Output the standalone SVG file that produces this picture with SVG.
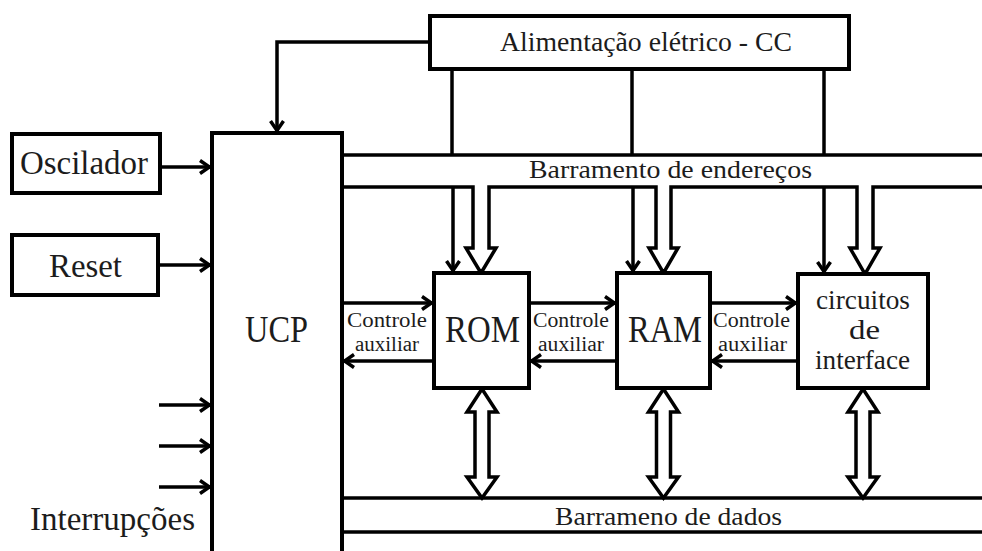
<svg xmlns="http://www.w3.org/2000/svg" width="982" height="551" viewBox="0 0 982 551" font-family="'Liberation Serif', 'Times New Roman', Times, 'DejaVu Serif', serif">
  <style>
    .box { fill: #fff; stroke: #000; stroke-width: 4; }
    .ln { fill: none; stroke: #000; stroke-width: 3.5; }
    .arw { fill: none; stroke: #000; stroke-width: 3.5; marker-end: url(#chev); }
    .blk { fill: #fff; stroke: #000; stroke-width: 3.5; stroke-linejoin: miter; }
    .open { fill: none; stroke: #000; stroke-width: 3.5; stroke-linejoin: miter; }
    .txt { fill: #1c1c1c; }
    .big { font-size: 37px; }
    .lab { font-size: 33px; }
    .bus { font-size: 26px; }
    .aux { font-size: 20px; }
    .ifc { font-size: 27px; }
  </style>
  <defs>
    <marker id="chev" viewBox="0 0 12 16" refX="11" refY="8" markerWidth="12" markerHeight="16" markerUnits="userSpaceOnUse" orient="auto">
      <path d="M1,1.5 L10.5,8 L1,14.5" fill="none" stroke="#000" stroke-width="3.5"/>
    </marker>
  </defs>

  <rect width="982" height="551" fill="#fff"/>

  <!-- connectors -->
  <g id="connectors">
    <!-- power supply to CPU -->
    <path class="arw" d="M430,42 H277 V131"/>
    <!-- power supply drops to the address bus -->
    <path class="ln" d="M452,69 V155"/>
    <path class="ln" d="M632,69 V155"/>
    <path class="ln" d="M824,69 V155"/>
    <!-- address bus: upper rail and lower rail opening into the block arrows -->
    <path class="ln" d="M342,155 H982"/>
    <path class="open" d="M342,187 H473 V248 H466 L481,273 L496,248 H489 V187 H656 V248 H649 L663.5,273 L678,248 H671 V187 H857 V248 H850 L865,274 L880,248 H873 V187 H982"/>
    <!-- address lines into the blocks -->
    <path class="arw" d="M453,187 V271"/>
    <path class="arw" d="M633,187 V271"/>
    <path class="arw" d="M824,187 V272"/>
    <!-- inputs to the CPU -->
    <path class="arw" d="M160,167 H210"/>
    <path class="arw" d="M158,265 H210"/>
    <path class="arw" d="M159,405 H210"/>
    <path class="arw" d="M159,446 H210"/>
    <path class="arw" d="M159,487 H210"/>
    <!-- auxiliary control lines -->
    <path class="arw" d="M342,303 H432"/>
    <path class="arw" d="M434,361 H344"/>
    <path class="arw" d="M529,303 H615"/>
    <path class="arw" d="M617,361 H531"/>
    <path class="arw" d="M710,303 H796"/>
    <path class="arw" d="M798,361 H712"/>
    <!-- data bus -->
    <path class="ln" d="M342,498 H982"/>
    <path class="ln" d="M342,532 H982"/>
    <!-- bidirectional data paths -->
    <path class="blk" d="M482,389 L497,412 H489 V477 H497 L482,498 L467,477 H475 V412 H467 Z"/>
    <path class="blk" d="M663.5,389 L678.5,412 H670.5 V477 H678.5 L663.5,498 L648.5,477 H656.5 V412 H648.5 Z"/>
    <path class="blk" d="M863,389 L878,412 H870 V477 H878 L863,498 L848,477 H856 V412 H848 Z"/>
  </g>

  <g id="alimentacao">
    <rect class="box" x="430" y="16" width="419" height="53"/>
    <text class="txt" x="500" y="51" font-size="27" textLength="292" lengthAdjust="spacingAndGlyphs">Alimentação elétrico - CC</text>
  </g>

  <g id="oscilador">
    <rect class="box" x="12" y="134" width="148" height="59"/>
    <text class="txt lab" x="20" y="174" textLength="128" lengthAdjust="spacingAndGlyphs">Oscilador</text>
  </g>

  <g id="reset">
    <rect class="box" x="12" y="235" width="146" height="60"/>
    <text class="txt lab" x="49" y="277" textLength="73" lengthAdjust="spacingAndGlyphs">Reset</text>
  </g>

  <g id="ucp">
    <rect class="box" x="212" y="133" width="130" height="440"/>
    <text class="txt big" x="245" y="342" textLength="63" lengthAdjust="spacingAndGlyphs">UCP</text>
  </g>

  <g id="rom">
    <rect class="box" x="434" y="273" width="95" height="115"/>
    <text class="txt big" x="445" y="342" textLength="75" lengthAdjust="spacingAndGlyphs">ROM</text>
  </g>

  <g id="ram">
    <rect class="box" x="617" y="273" width="93" height="115"/>
    <text class="txt big" x="628" y="342" textLength="74" lengthAdjust="spacingAndGlyphs">RAM</text>
  </g>

  <g id="interface">
    <rect class="box" x="798" y="274" width="130" height="114"/>
    <text class="txt ifc" x="816" y="309" textLength="94" lengthAdjust="spacingAndGlyphs">circuitos</text>
    <text class="txt ifc" x="849" y="339" textLength="31" lengthAdjust="spacingAndGlyphs">de</text>
    <text class="txt ifc" x="815" y="369" textLength="95" lengthAdjust="spacingAndGlyphs">interface</text>
  </g>

  <g id="labels">
    <text class="txt bus" x="529" y="178" textLength="283" lengthAdjust="spacingAndGlyphs">Barramento de endereços</text>
    <text class="txt bus" x="555" y="525" textLength="227" lengthAdjust="spacingAndGlyphs">Barrameno de dados</text>
    <text class="txt lab" x="30" y="530" textLength="165" lengthAdjust="spacingAndGlyphs">Interrupções</text>
    <text class="txt aux" x="347" y="327" textLength="80" lengthAdjust="spacingAndGlyphs">Controle</text>
    <text class="txt aux" x="355" y="351" textLength="64" lengthAdjust="spacingAndGlyphs">auxiliar</text>
    <text class="txt aux" x="533" y="327" textLength="76" lengthAdjust="spacingAndGlyphs">Controle</text>
    <text class="txt aux" x="538" y="351" textLength="66" lengthAdjust="spacingAndGlyphs">auxiliar</text>
    <text class="txt aux" x="713" y="327" textLength="77" lengthAdjust="spacingAndGlyphs">Controle</text>
    <text class="txt aux" x="718" y="351" textLength="69" lengthAdjust="spacingAndGlyphs">auxiliar</text>
  </g>
</svg>
